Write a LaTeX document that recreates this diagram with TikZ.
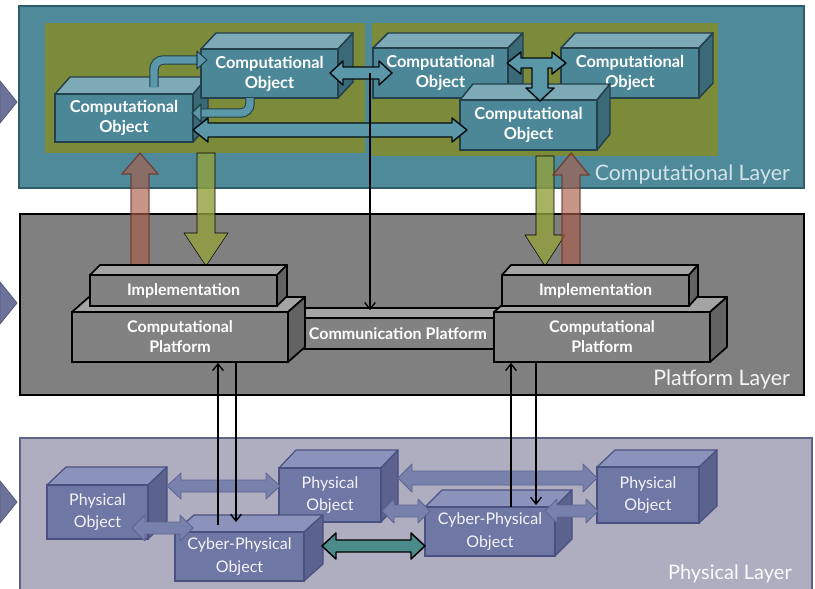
\documentclass[tikz,border=0pt]{standalone}
\usepackage{fontspec}
\setsansfont{Lato}
\usetikzlibrary{arrows.meta,fit,calc}

\definecolor{clayer}{HTML}{4F8A9B}
\definecolor{clayerline}{HTML}{2E5C69}
\definecolor{olivec}{HTML}{7B8B3A}
\definecolor{cfront}{HTML}{4C8798}
\definecolor{ctop}{HTML}{7EAAB8}
\definecolor{cside}{HTML}{3A6A78}
\definecolor{cline}{HTML}{24404A}
\definecolor{carrow}{HTML}{5A97A8}
\definecolor{players}{HTML}{808080}
\definecolor{pfront}{HTML}{828282}
\definecolor{ptop}{HTML}{A4A4A4}
\definecolor{pside}{HTML}{636363}
\definecolor{hlayer}{HTML}{AEAEC0}
\definecolor{hlayerline}{HTML}{5E6283}
\definecolor{hfront}{HTML}{6F77A4}
\definecolor{htop}{HTML}{8B93BC}
\definecolor{hside}{HTML}{5A628D}
\definecolor{hline}{HTML}{4A5180}
\definecolor{harrow}{HTML}{7880AC}
\definecolor{tealarrow}{HTML}{4B8C8A}
\definecolor{chev}{HTML}{6C7299}
\definecolor{brownf}{HTML}{A95E4B}
\definecolor{brownl}{HTML}{6E3328}
\definecolor{olivearrow}{HTML}{92A13D}
\definecolor{clabel}{HTML}{D2E3E9}

\tikzset{
  compface/.style={draw=cline, line width=1.1pt, fill=cfront, inner sep=0pt},
  comptext/.style={text=white, font=\sffamily\bfseries\fontsize{12.3}{15}\selectfont, align=center, inner sep=0pt},
  comptop/.style={draw=cline, line width=1.1pt, fill=ctop, line join=round},
  compside/.style={draw=cline, line width=1.1pt, fill=cside, line join=round},
  platface/.style={draw=black, line width=1.3pt, fill=pfront, inner sep=0pt},
  plattext/.style={text=white, font=\sffamily\bfseries\fontsize{12}{15}\selectfont, align=center, inner sep=0pt},
  plattop/.style={draw=black, line width=1.3pt, fill=ptop, line join=round},
  platside/.style={draw=black, line width=1.3pt, fill=pside, line join=round},
  physface/.style={draw=hline, line width=0.9pt, fill=hfront, inner sep=0pt},
  phystext/.style={text=white!92!hfront, font=\sffamily\fontsize{12}{17}\selectfont, align=center, inner sep=0pt},
  phystop/.style={draw=hline, line width=0.9pt, fill=htop, line join=round},
  physside/.style={draw=hline, line width=0.9pt, fill=hside, line join=round},
  cblock/.style={fill=carrow, draw=black!80!cline, line width=1.1pt, line join=round},
  hblock/.style={fill=harrow, draw=hline!60!harrow, line width=0.6pt, line join=round},
  tblock/.style={fill=tealarrow, draw=black, line width=1.1pt, line join=round},
  tube/.style={draw=cline, line width=0.8pt, double=carrow, double distance=5.5pt, rounded corners=7pt},
  tubehead/.style={fill=carrow, draw=cline, line width=0.8pt, line join=round},
  conn/.style={draw=black, line width=1pt, -{Straight Barb[length=5pt,width=8pt]}},
  olivearr/.style={fill=olivearrow, fill opacity=0.8},
  brownarr/.style={fill=brownf, fill opacity=0.65, draw=brownl, draw opacity=0.8, line width=1pt},
  layerlabel/.style={anchor=base east, font=\sffamily\fontsize{16}{18}\selectfont, inner sep=0pt},
  chevron/.style={fill=chev, draw=chev!80!black, line width=0.6pt, line join=round}
}

% name, x1, y1, x2, y2, depth dx, depth dy, family, text
\newcommand{\cuboid}[9]{%
  \filldraw[#8top] (#2,#3) -- ++(#6,-#7) -- ++(#4-#2,0) -- (#4,#3) -- cycle;
  \filldraw[#8side] (#4,#3) -- ++(#6,-#7) -- ++(0,#5-#3) -- (#4,#5) -- cycle;
  \node[#8face, fit={(#2,#3) (#4,#5)}] (#1) {};
  \node[#8text] (#1-t) at (#1.center) {#9};
}
% style, x1, x2, y, shaft half, head half, head length
\newcommand{\hdbl}[7]{%
  \filldraw[#1] (#2,#4) -- (#2+#7,#4-#6) -- (#2+#7,#4-#5) -- (#3-#7,#4-#5) -- (#3-#7,#4-#6)
    -- (#3,#4) -- (#3-#7,#4+#6) -- (#3-#7,#4+#5) -- (#2+#7,#4+#5) -- (#2+#7,#4+#6) -- cycle;
}
% style, xc, ystart, ybase, ytip, shaft half, head half
\newcommand{\vblk}[7]{%
  \filldraw[#1] (#2-#6,#3) -- (#2-#6,#4) -- (#2-#7,#4) -- (#2,#5) -- (#2+#7,#4) -- (#2+#6,#4) -- (#2+#6,#3) -- cycle;
}

\begin{document}
\begin{tikzpicture}[x=0.75pt,y=-0.75pt]
\useasboundingbox (0,0) rectangle (815,589);
\fill[white] (0,0) rectangle (815,589);

% chevrons
\filldraw[chevron] (0,81) -- (17,102) -- (0,123) -- cycle;
\filldraw[chevron] (0,282) -- (17,303) -- (0,324) -- cycle;
\filldraw[chevron] (0,481) -- (17,502) -- (0,523) -- cycle;

% layers
\filldraw[fill=clayer, draw=clayerline, line width=1.2pt] (19,6) rectangle (804,188);
\filldraw[fill=players, draw=black, line width=1.5pt] (20,214) rectangle (804,395);
\filldraw[fill=hlayer, draw=hlayerline, line width=1.2pt] (20,438) rectangle (812,600);

\fill[olivec] (45,23) rectangle (365,153);
\fill[olivec] (372,23) rectangle (718,156);

\node[layerlabel, text=clabel] (lcomp) at (790,180) {Computational Layer};
\node[layerlabel, text=white!92!players] (lplat) at (790,385) {Platform Layer};
\node[layerlabel, text=white!95!hlayer, font=\sffamily\fontsize{15}{18}\selectfont] (lphys) at (792,579) {Physical Layer};

% olive (down) and brown (up) block arrows
\vblk{olivearr}{206}{153}{233}{266}{9}{22}
\vblk{olivearr}{545}{156}{235}{266}{9}{20}
\vblk{brownarr}{140}{265}{174}{153}{9}{18}
\vblk{brownarr}{571}{265}{175}{153}{9}{18}

% computational objects
\cuboid{coA}{55}{94}{193}{142}{15}{17}{comp}{Computational\\Object}
\cuboid{coB}{201}{49}{338}{98}{15}{16}{comp}{Computational\\Object}
\cuboid{coC}{373}{48}{508}{98}{15}{15}{comp}{Computational\\Object}
\cuboid{coD}{561}{48}{699}{98}{14}{15}{comp}{Computational\\Object}
\cuboid{coE}{460}{100}{597}{150}{13}{16}{comp}{Computational\\Object}

% connectors between computational objects
\draw[tube] (154,87) |- (198,60);
\filldraw[tubehead] (197,51) -- (207,60) -- (197,69) -- cycle;
\draw[tube] (250,98) |- (199,113);
\filldraw[tubehead] (201,104) -- (192,113) -- (201,122) -- cycle;
\hdbl{cblock}{330}{392}{73}{6}{12}{13}
\hdbl{cblock}{193}{467}{130}{7}{12}{15}
\filldraw[cblock] (507,63) -- (521,52) -- (521,58) -- (552,58) -- (552,52) -- (566,63)
  -- (552,74) -- (552,68) -- (548,68) -- (548,88) -- (554,88) -- (540,101) -- (526,88)
  -- (532,88) -- (532,68) -- (521,68) -- (521,74) -- cycle;

% platform layer
\cuboid{comm}{296}{318}{500}{349}{10}{10}{plat}{Communication Platform}
\cuboid{cpL}{72}{312}{288}{362}{17}{15}{plat}{Computational\\Platform}
\cuboid{cpR}{494}{312}{710}{362}{17}{15}{plat}{Computational\\Platform}
\cuboid{imL}{90}{275}{277}{306}{10}{10}{plat}{Implementation}
\cuboid{imR}{502}{275}{689}{306}{9}{10}{plat}{Implementation}

% physical layer
\cuboid{p1}{47}{485}{148}{539}{19}{18}{phys}{Physical\\Object}
\cuboid{p2}{279}{468}{381}{522}{17}{18}{phys}{Physical\\Object}
\cuboid{p3}{597}{467}{699}{523}{18}{17}{phys}{Physical\\Object}
\hdbl{hblock}{167}{280}{486}{6}{13}{14}
\hdbl{hblock}{398}{597}{478}{7}{14}{14}
\cuboid{cp1}{175}{532}{304}{581}{19}{17}{phys}{Cyber-Physical\\Object}
\cuboid{cp2}{425}{507}{555}{556}{17}{17}{phys}{Cyber-Physical\\Object}
\hdbl{hblock}{132}{193}{528}{6}{13}{13}
\hdbl{hblock}{382}{430}{511}{6}{12}{12}
\hdbl{hblock}{545}{598}{511}{6}{12}{12}
\hdbl{tblock}{322}{425}{546}{6}{13}{14}

% thin connectors
\coordinate (t0) at (370,73);
\draw[conn] (t0) -- ($(t0 |- comm.north)+(0,-7)$);
\coordinate (u1) at (218,525);
\draw[conn] (u1) -- (u1 |- cpL.south);
\coordinate (d1) at (236,522);
\draw[conn] (d1 |- cpL.south) -- (d1);
\coordinate (u2) at (511,507);
\draw[conn] (u2) -- (u2 |- cpR.south);
\coordinate (d2) at (536,505);
\draw[conn] (d2 |- cpR.south) -- (d2);
\end{tikzpicture}
\end{document}
